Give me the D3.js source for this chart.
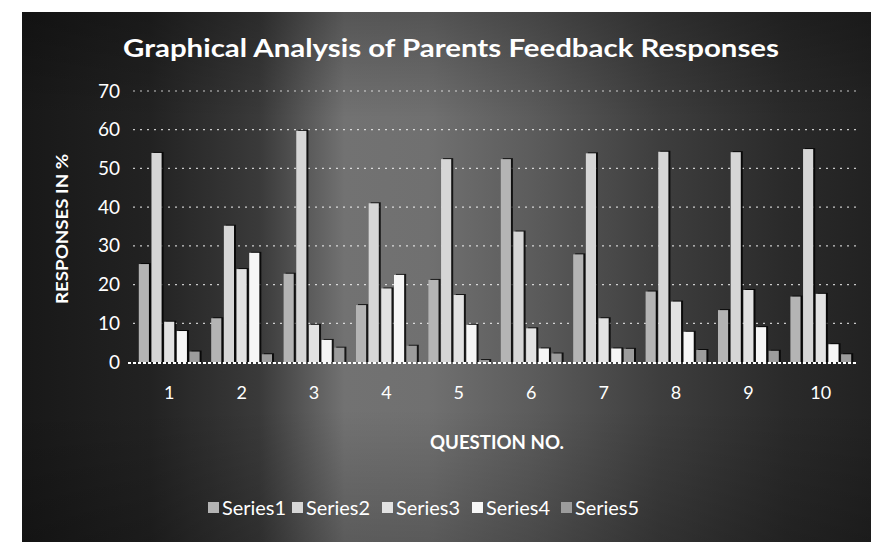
<!DOCTYPE html>
<html>
<head>
<meta charset="utf-8">
<script src="https://cdn.jsdelivr.net/npm/d3@7"></script>
<style>
  html, body { margin: 0; padding: 0; background: #ffffff; }
  svg { display: block; }
  text { font-family: Lato, "Open Sans", sans-serif; fill: #ffffff; }
</style>
</head>
<body>
<svg id="chart" width="871" height="542"></svg>
<script>
// Question numbers along the x axis
const questions = ["1", "2", "3", "4", "5", "6", "7", "8", "9", "10"];
const seriesNames = ["Series1", "Series2", "Series3", "Series4", "Series5"];

// Responses in % per question, one array per series
const series1 = [25.3, 11.3, 22.8, 14.7, 21.2, 52.4, 27.8, 18.2, 13.4, 16.9];
const series2 = [54.0, 35.2, 59.7, 41.0, 52.4, 33.7, 53.9, 54.3, 54.2, 55.0];
const series3 = [10.4, 24.0, 9.6, 19.0, 17.3, 8.7, 11.3, 15.6, 18.6, 17.6];
const series4 = [8.0, 28.2, 5.7, 22.5, 9.6, 3.5, 3.5, 7.8, 9.0, 4.6];
const series5 = [2.7, 2.0, 3.7, 4.2, 0.5, 2.2, 3.4, 3.1, 2.9, 2.0];

const yTicks = [0, 10, 20, 30, 40, 50, 60, 70];

const allSeries = [series1, series2, series3, series4, series5];
const barColors = ["#b4b4b4", "#d6d6d6", "#e2e2e2", "#f6f6f6", "#9c9c9c"];

const svg = d3.select("#chart");
const W = 871, H = 542;

// Backdrop with uneven lighting across the sheet
const defs = svg.append("defs");
const bg = defs.append("linearGradient").attr("id", "bgGrad")
  .attr("x1", "0").attr("y1", "0").attr("x2", "1").attr("y2", "0");
[[0, "#181818"], [0.15, "#222222"], [0.28, "#3a3a3a"], [0.38, "#727272"],
 [0.48, "#707070"], [0.6, "#5c5c5c"], [0.75, "#3e3e3e"], [0.9, "#2a2a2a"], [1, "#222222"]]
  .forEach(([o, c]) => bg.append("stop").attr("offset", o).attr("stop-color", c));

const vshade = defs.append("linearGradient").attr("id", "vShade")
  .attr("x1", "0").attr("y1", "0").attr("x2", "0").attr("y2", "1");
[[0, "#000", 0.25], [0.2, "#000", 0.0], [0.75, "#000", 0.0], [1, "#000", 0.2]]
  .forEach(([o, c, a]) => vshade.append("stop").attr("offset", o).attr("stop-color", c).attr("stop-opacity", a));

svg.append("rect").attr("x", 22).attr("y", 12).attr("width", W - 22).attr("height", H - 12)
  .attr("fill", "url(#bgGrad)");
svg.append("rect").attr("x", 22).attr("y", 12).attr("width", W - 22).attr("height", H - 12)
  .attr("fill", "url(#vShade)");

// Scales
const plot = { left: 133, right: 857, top: 91, bottom: 362 };
const x0 = d3.scaleBand().domain(questions).range([plot.left, plot.right])
  .paddingInner(0.16).paddingOuter(0.08);
const x1 = d3.scaleBand().domain(d3.range(seriesNames.length)).range([0, x0.bandwidth()])
  .paddingInner(0.2);
const y = d3.scaleLinear().domain([0, 70]).range([plot.bottom, plot.top]);

// Dotted gridlines
svg.append("g").selectAll("line").data(yTicks.filter(d => d > 0)).join("line")
  .attr("x1", plot.left).attr("x2", plot.right)
  .attr("y1", d => y(d)).attr("y2", d => y(d))
  .attr("stroke", "#ffffff").attr("stroke-opacity", 0.75)
  .attr("stroke-width", 1.2).attr("stroke-dasharray", "2,5");

// Bars with a dark drop shadow on the right
const groups = svg.append("g").selectAll("g").data(questions).join("g")
  .attr("transform", d => `translate(${x0(d)},0)`);

groups.selectAll("rect.shadow")
  .data((q, i) => allSeries.map((s, k) => ({ k, v: s[i] })))
  .join("rect").attr("class", "shadow")
  .attr("x", d => x1(d.k) + 2).attr("width", x1.bandwidth())
  .attr("y", d => y(d.v) - 1).attr("height", d => y(0) - y(d.v) + 1)
  .attr("fill", "#000000").attr("opacity", 0.8);

groups.selectAll("rect.bar")
  .data((q, i) => allSeries.map((s, k) => ({ k, v: s[i] })))
  .join("rect").attr("class", "bar")
  .attr("x", d => x1(d.k)).attr("width", x1.bandwidth())
  .attr("y", d => y(d.v)).attr("height", d => y(0) - y(d.v))
  .attr("fill", d => barColors[d.k]);

// Baseline
svg.append("line").attr("x1", plot.left - 5).attr("x2", plot.right)
  .attr("y1", y(0) + 1).attr("y2", y(0) + 1)
  .attr("stroke", "#ffffff").attr("stroke-width", 2).attr("stroke-dasharray", "3,2");

// Y axis labels
const yAxis = d3.axisLeft(y).tickValues(yTicks).tickSize(0).tickPadding(0);
const yg = svg.append("g").attr("transform", `translate(${plot.left - 13},0)`).call(yAxis);
yg.select(".domain").remove();
yg.selectAll("text").style("font-size", "19px").style("font-family", "Lato, sans-serif")
  .attr("fill", "#ffffff");

// X axis labels
const xAxis = d3.axisBottom(x0).tickSize(0).tickPadding(0);
const xg = svg.append("g").attr("transform", `translate(0,${y(0) + 24})`).call(xAxis);
xg.select(".domain").remove();
xg.selectAll("text").style("font-size", "18px").style("font-family", "Lato, sans-serif")
  .attr("fill", "#ffffff");

// Title
svg.append("text").attr("x", 451).attr("y", 57).attr("text-anchor", "middle")
  .attr("textLength", 656).attr("lengthAdjust", "spacingAndGlyphs")
  .style("font-size", "24px").style("font-weight", "bold")
  .text("Graphical Analysis of Parents Feedback Responses");

// Axis titles
svg.append("text").attr("transform", `translate(68,229) rotate(-90)`)
  .attr("text-anchor", "middle").attr("textLength", 150).attr("lengthAdjust", "spacingAndGlyphs")
  .style("font-size", "17px").style("font-weight", "bold")
  .text("RESPONSES IN %");

svg.append("text").attr("x", 497).attr("y", 449).attr("text-anchor", "middle")
  .attr("textLength", 134).attr("lengthAdjust", "spacingAndGlyphs")
  .style("font-size", "18px").style("font-weight", "bold")
  .text("QUESTION NO.");

// Legend
const legendX = [208, 292, 382, 472, 561];
const legend = svg.append("g").selectAll("g").data(seriesNames).join("g")
  .attr("transform", (d, i) => `translate(${legendX[i]},${515})`);
legend.append("rect").attr("x", 0).attr("y", -13).attr("width", 11).attr("height", 11)
  .attr("fill", (d, i) => barColors[i]);
legend.append("text").attr("x", 14).attr("y", 0)
  .attr("textLength", 64).attr("lengthAdjust", "spacingAndGlyphs")
  .style("font-size", "19px").text(d => d);
</script>
</body>
</html>
